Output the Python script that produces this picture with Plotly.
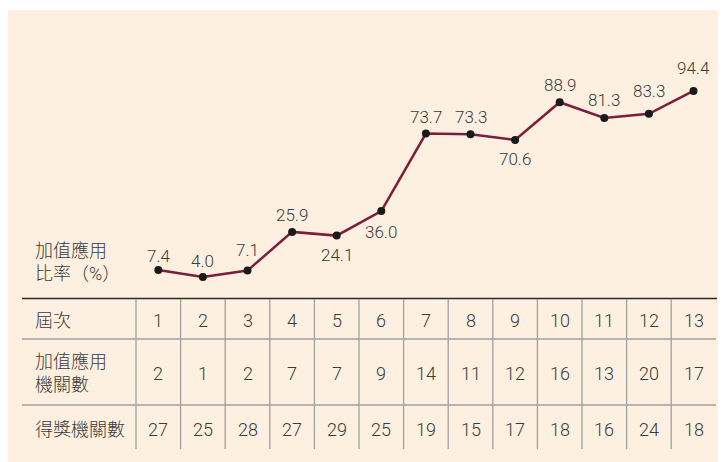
import plotly.graph_objects as go

# ---- data ----
sessions = [1, 2, 3, 4, 5, 6, 7, 8, 9, 10, 11, 12, 13]
rate = [7.4, 4.0, 7.1, 25.9, 24.1, 36.0, 73.7, 73.3, 70.6, 88.9, 81.3, 83.3, 94.4]
apply_count = [2, 1, 2, 7, 7, 9, 14, 11, 12, 16, 13, 20, 17]
award_count = [27, 25, 28, 27, 29, 25, 19, 15, 17, 18, 16, 24, 18]
row_labels = ["屆次", "加值應用<br>機關數", "得獎機關數"]
y_label = "加值應用<br>比率（%）"
# vertical label offset in pixels (positive = above point)
label_up = [14, 16, 21, 17, -19, -21, 17, 17, -19, 17, 18, 23, 23]

OFF = 8  # page offset of the figure (body margin)
W, H = 718, 454
BG = "#fdf0e0"
TXT = "#3a3a3a"
FONT = "Roboto, Liberation Sans, Noto Sans CJK TC, sans-serif"
FW = 300

# pixel geometry (page pixels)
pitch = 44.6
sep0 = 136.0
def xi(px):
    return (px - sep0) / pitch + 0.5

v0_px = 285.2
scale = 2.058
def yv(px):
    return (v0_px - px) / scale

def yp(px):
    return 1 - (px - OFF) / H

def xp(px):
    return (px - OFF) / W

fig = go.Figure()
fig.add_trace(go.Scatter(
    x=sessions, y=rate, mode="lines+markers",
    line=dict(color="#7c1d3b", width=2.5),
    marker=dict(color="#1a1a1a", size=8),
    cliponaxis=False, hoverinfo="skip", showlegend=False))

shapes = []
shapes.append(dict(type="rect", xref="paper", yref="paper", x0=0, x1=1, y0=0, y1=yp(10),
                   fillcolor=BG, line=dict(width=0), layer="below"))
# table lines
shapes.append(dict(type="line", xref="paper", yref="paper", x0=xp(22), x1=xp(717),
                   y0=yp(298.5), y1=yp(298.5), line=dict(color="#2a2a2a", width=1.6)))
for py in [339, 405]:
    shapes.append(dict(type="line", xref="paper", yref="paper", x0=xp(22), x1=xp(716),
                       y0=yp(py), y1=yp(py), line=dict(color="#a0a0a0", width=1.3)))
for s in sessions:
    shapes.append(dict(type="line", xref="x", yref="paper", x0=s - 0.5, x1=s - 0.5,
                       y0=yp(299), y1=yp(449), line=dict(color="#a0a0a0", width=1.3)))

ann = []
for s, v, up in zip(sessions, rate, label_up):
    ann.append(dict(x=s, y=v, xref="x", yref="y", text=f"{v:.1f}", showarrow=False,
                    xanchor="center", yanchor="middle", yshift=up,
                    font=dict(size=17, color=TXT, family=FONT, weight=FW)))
row_y = [320, 373, 429]
rows = [sessions, apply_count, award_count]
for ry, lab, vals in zip(row_y, row_labels, rows):
    ann.append(dict(x=xp(33), y=yp(ry), xref="paper", yref="paper", text=lab,
                    showarrow=False, xanchor="left", yanchor="middle", align="left",
                    font=dict(size=18, color=TXT, family=FONT, weight=FW)))
    for s, v in zip(sessions, vals):
        ann.append(dict(x=s, y=yp(ry), xref="x", yref="paper", text=str(v),
                        showarrow=False, xanchor="center", yanchor="middle",
                        font=dict(size=18, color=TXT, family=FONT, weight=FW)))
ann.append(dict(x=xp(33), y=yp(262), xref="paper", yref="paper", text=y_label,
                showarrow=False, xanchor="left", yanchor="middle", align="left",
                font=dict(size=18, color=TXT, family=FONT, weight=FW)))

fig.update_layout(
    width=W, height=H, margin=dict(l=0, r=0, t=0, b=0),
    paper_bgcolor="white", plot_bgcolor="rgba(0,0,0,0)",
    xaxis=dict(range=[xi(OFF), xi(OFF + W)], visible=False, fixedrange=True),
    yaxis=dict(range=[yv(OFF + H), yv(OFF)], visible=False, fixedrange=True),
    shapes=shapes, annotations=ann, showlegend=False)

fig.write_html("out.html")
